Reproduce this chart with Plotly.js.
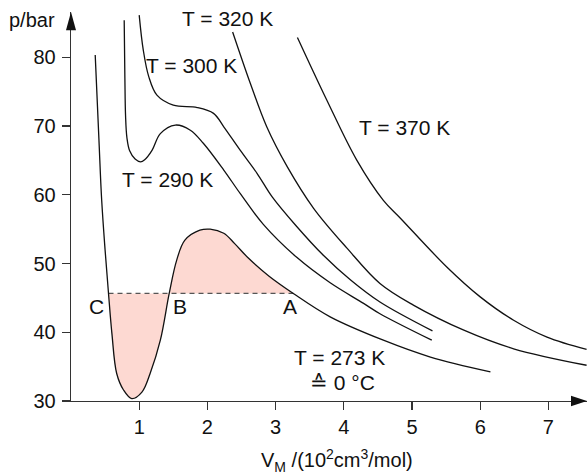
<!DOCTYPE html>
<html>
<head>
<meta charset="utf-8">
<script src="https://cdn.plot.ly/plotly-3.0.1.min.js"></script>
<style>html,body{margin:0;padding:0;background:#fff;}#chart{width:587px;height:476px;}</style>
</head>
<body>
<div id="chart"></div>
<script>
// ---- data ----
const v273 = [0.355, 0.41, 0.45, 0.50, 0.55, 0.60, 0.67, 0.77, 0.89, 1.04, 1.16, 1.31, 1.44, 1.55, 1.67, 1.89, 2.04, 2.24, 2.40, 2.60, 2.90, 3.26, 3.80, 4.58, 5.27, 6.15];
const p273 = [80.35, 67.95, 59.2, 51.95, 45.65, 39.8, 34.0, 31.6, 30.35, 31.3, 34.0, 38.85, 45.65, 50.5, 53.4, 54.85, 55.0, 54.4, 52.9, 50.8, 48.2, 45.65, 42.25, 38.85, 36.4, 34.25];

const v290 = [0.78, 0.79, 0.80, 0.82, 0.86, 0.94, 1.02, 1.08, 1.19, 1.31, 1.53, 1.75, 1.94, 2.24, 2.48, 2.82, 3.31, 3.80, 4.29, 4.53, 5.29];
const p290 = [85.4, 77.0, 71.5, 68.3, 66.4, 65.2, 64.8, 65.1, 66.5, 68.9, 70.15, 69.4, 67.5, 63.6, 60.2, 55.7, 50.9, 47.2, 44.2, 42.7, 38.85];

const v300 = [1.0, 1.06, 1.14, 1.26, 1.50, 1.85, 2.09, 2.24, 2.48, 2.73, 2.95, 3.3, 3.7, 4.1, 4.53, 5.30];
const p300 = [86.15, 81.05, 77.2, 74.5, 73.05, 72.7, 71.85, 69.9, 66.5, 63.1, 59.7, 55.5, 51.2, 47.6, 44.4, 40.2];

const v320 = [2.37, 2.63, 2.87, 3.17, 3.56, 4.05, 4.53, 5.02, 5.76, 6.49, 7.56];
const p320 = [83.7, 76.2, 69.9, 64.1, 58.0, 52.2, 47.1, 43.95, 40.3, 37.6, 35.2];

const v370 = [3.32, 3.75, 4.19, 4.58, 4.83, 5.51, 6.0, 6.49, 6.98, 7.56];
const p370 = [82.9, 73.8, 65.05, 59.2, 56.6, 49.5, 45.15, 41.75, 39.3, 37.5];

// Maxwell construction: liquefaction pressure and points C, A
const pLiq = 45.65;
const vC = 0.55;
const vA = 3.26;

const xTickVals = [1, 2, 3, 4, 5, 6, 7];
const xTickText = ['1', '2', '3', '4', '5', '6', '7'];
const yTickVals = [30, 40, 50, 60, 70, 80];
const yTickText = ['30', '40', '50', '60', '70', '80'];

// ---- build traces ----
const FONT = 'Liberation Sans, Arial, Helvetica, sans-serif';
const curveLine = {color: '#111', width: 1.3, shape: 'spline', smoothing: 1};

const fillX = [], fillY = [];
for (let i = 0; i < v273.length; i++) {
  if (v273[i] >= vC && v273[i] <= vA) { fillX.push(v273[i]); fillY.push(p273[i]); }
}

const traces = [
  {x: fillX, y: fillY, mode: 'lines', fill: 'toself', fillcolor: '#fdd9d2',
   line: {width: 0, shape: 'spline', smoothing: 1, color: 'rgba(0,0,0,0)'}, hoverinfo: 'skip'},
  {x: [vC, vA], y: [pLiq, pLiq], mode: 'lines', line: {color: '#555', width: 1.2, dash: '5px,4px'}},
  {x: v273, y: p273, mode: 'lines', line: curveLine},
  {x: v290, y: p290, mode: 'lines', line: curveLine},
  {x: v300, y: p300, mode: 'lines', line: curveLine},
  {x: v320, y: p320, mode: 'lines', line: curveLine},
  {x: v370, y: p370, mode: 'lines', line: curveLine}
];

const lab = (x, y, t, extra) => Object.assign({x: x, y: y, xref: 'x', yref: 'y', text: t, showarrow: false,
  font: {family: FONT, size: 21, color: '#111'}, xanchor: 'center', yanchor: 'middle'}, extra || {});

const layout = {
  width: 587, height: 476,
  margin: {l: 71, r: 0, t: 12, b: 75, pad: 0},
  paper_bgcolor: '#fff', plot_bgcolor: '#fff',
  showlegend: false,
  font: {family: FONT, size: 20, color: '#111'},
  xaxis: {range: [0, 7.566], showgrid: false, zeroline: false, showline: true, linecolor: '#333', linewidth: 1.3,
          ticks: 'outside', ticklen: 8, tickwidth: 1.2, tickcolor: '#333',
          tickmode: 'array', tickvals: xTickVals, ticktext: xTickText, ticklabelstandoff: 0,
          tickfont: {family: FONT, size: 20, color: '#111'}, fixedrange: true},
  yaxis: {range: [30, 86.6], showgrid: false, zeroline: false, showline: true, linecolor: '#333', linewidth: 1.3,
          ticks: 'outside', ticklen: 8, tickwidth: 1.2, tickcolor: '#333',
          tickmode: 'array', tickvals: yTickVals, ticktext: yTickText, ticklabelstandoff: 2,
          tickfont: {family: FONT, size: 20, color: '#111'}, fixedrange: true},
  shapes: [
    {type: 'path', xref: 'paper', yref: 'paper', path: 'M 1 0 L 0.969 0.0135 L 0.969 -0.0135 Z',
     fillcolor: '#111', line: {width: 0}},
    {type: 'path', xref: 'paper', yref: 'paper', path: 'M 0 1 L -0.0097 0.953 L 0.0097 0.953 Z',
     fillcolor: '#111', line: {width: 0}}
  ],
  annotations: [
    lab(2.29, 85.72, 'T = 320 K'),
    lab(1.77, 78.88, 'T = 300 K'),
    lab(4.885, 69.85, 'T = 370 K'),
    lab(1.41, 62.29, 'T = 290 K'),
    lab(3.94, 36.38, 'T = 273 K'),
    lab(3.977, 32.74, '≙ 0 °C'),
    lab(0.38, 43.7, 'C'),
    lab(1.60, 43.7, 'B'),
    lab(3.21, 43.7, 'A'),
    {x: -0.0756, y: 1, xref: 'paper', yref: 'paper', yshift: -8, text: 'p/bar', showarrow: false,
     xanchor: 'center', yanchor: 'middle', font: {family: FONT, size: 20, color: '#111'}},
    {x: 0.5155, y: 0, xref: 'paper', yref: 'paper', yshift: -59, text: 'V<sub>M</sub> /(10<sup>2</sup>cm<sup>3</sup>/mol)',
     showarrow: false, xanchor: 'center', yanchor: 'middle', font: {family: FONT, size: 20, color: '#111'}}
  ]
};

Plotly.newPlot('chart', traces, layout, {displayModeBar: false, staticPlot: true});
</script>
</body>
</html>
